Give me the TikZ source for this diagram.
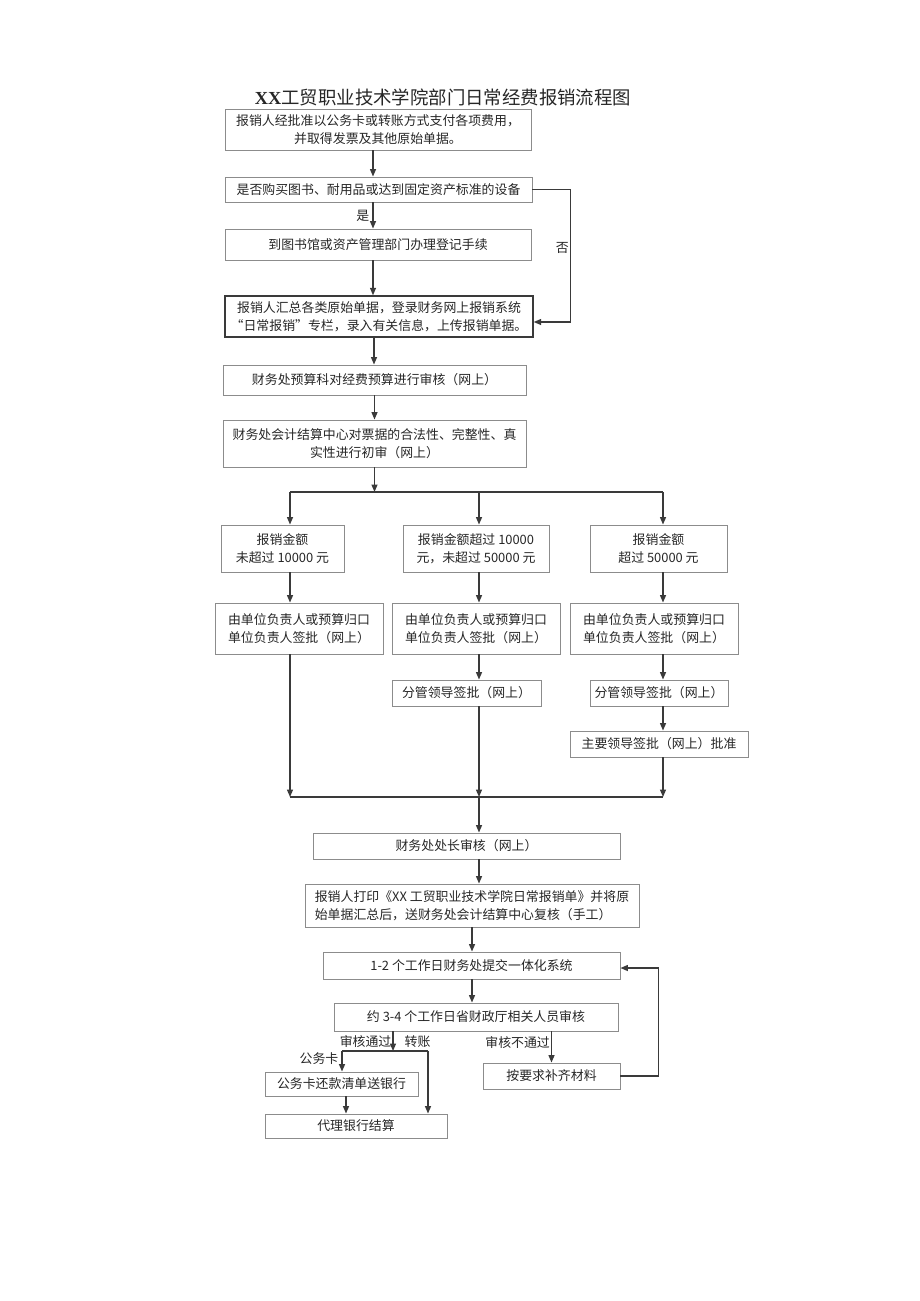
\documentclass[tikz,border=0pt]{standalone}
\usepackage{fontspec}
\setmainfont{Liberation Serif}
\newfontfamily\cjk{Noto Sans CJK SC}
\usetikzlibrary{arrows.meta,calc}
\definecolor{boxgray}{HTML}{8C8C8C}
\definecolor{linegray}{HTML}{3A3A3A}
\definecolor{textgray}{HTML}{262626}

\begin{document}
\begin{tikzpicture}[x=1pt,y=-1pt,every node/.append style={font=\cjk\fontsize{12.9}{18}\selectfont,
                    text=textgray},
    box/.style={draw=boxgray, line width=.9pt, inner sep=0pt, align=center},
    darkbox/.style={box, draw=linegray, line width=1.4pt},
    line/.style={draw=linegray, line width=1.3pt},
    arr/.style={line, -{Triangle[length=7.5pt,width=6pt]}},
    lbl/.style={inner sep=3pt}]
    \useasboundingbox (0,0) rectangle (920,1301);

    \node (title) at (443,97) {\fontsize{18.4}{22}\selectfont{\rmfamily\bfseries XX}工贸职业技术学院部门日常经费报销流程图};

    \node[box, minimum width=306pt, minimum height=41pt] (n1) at (378,129.5)
      {报销人经批准以公务卡或转账方式支付各项费用，\\并取得发票及其他原始单据。};
    \node[box, minimum width=307pt, minimum height=25pt] (n2) at (378.5,189.5)
      {是否购买图书、耐用品或达到固定资产标准的设备};
    \node[box, minimum width=306pt, minimum height=31pt] (n3) at (378,244.5)
      {到图书馆或资产管理部门办理登记手续};
    \node[darkbox, minimum width=308pt, minimum height=41pt] (n4) at (379,316.5)
      {报销人汇总各类原始单据，登录财务网上报销系统\\“日常报销”专栏，录入有关信息，上传报销单据。};
    \node[box, minimum width=303pt, minimum height=30pt] (n5) at (374.5,380)
      {财务处预算科对经费预算进行审核（网上）};
    \node[box, minimum width=303pt, minimum height=47pt] (n6) at (374.5,443.5)
      {财务处会计结算中心对票据的合法性、完整性、真\\实性进行初审（网上）};

    \node[box, minimum width=123pt, minimum height=47pt] (a1) at (282.5,548.5)
      {报销金额\\未超过 10000 元};
    \node[box, minimum width=146pt, minimum height=47pt] (a2) at (476,548.5)
      {报销金额超过 10000\\元，未超过 50000 元};
    \node[box, minimum width=137pt, minimum height=47pt] (a3) at (658.5,548.5)
      {报销金额\\超过 50000 元};

    \node[box, minimum width=168pt, minimum height=51pt] (b1) at (299,628.5)
      {由单位负责人或预算归口\\单位负责人签批（网上）};
    \node[box, minimum width=168pt, minimum height=51pt] (b2) at (476,628.5)
      {由单位负责人或预算归口\\单位负责人签批（网上）};
    \node[box, minimum width=168pt, minimum height=51pt] (b3) at (654,628.5)
      {由单位负责人或预算归口\\单位负责人签批（网上）};

    \node[box, minimum width=149pt, minimum height=26pt] (c2) at (466.5,693)
      {分管领导签批（网上）};
    \node[box, minimum width=138pt, minimum height=26pt] (c3) at (659,693)
      {分管领导签批（网上）};
    \node[box, minimum width=178pt, minimum height=26pt] (d3) at (659,744)
      {主要领导签批（网上）批准};

    \node[box, minimum width=307pt, minimum height=26pt] (e) at (466.5,846)
      {财务处处长审核（网上）};
    \node[box, minimum width=334pt, minimum height=43pt, align=left] (f) at (472,905.5)
      {报销人打印《XX 工贸职业技术学院日常报销单》并将原\\始单据汇总后，送财务处会计结算中心复核（手工）};
    \node[box, minimum width=297pt, minimum height=27pt] (g) at (471.5,965.5)
      {1-2 个工作日财务处提交一体化系统};
    \node[box, minimum width=284pt, minimum height=28pt] (h) at (476,1017)
      {约 3-4 个工作日省财政厅相关人员审核};
    \node[box, minimum width=153pt, minimum height=24pt] (i) at (341.5,1084)
      {公务卡还款清单送银行};
    \node[box, minimum width=182pt, minimum height=24pt] (j) at (356,1126)
      {代理银行结算};
    \node[box, minimum width=137pt, minimum height=26pt] (k) at (551.5,1076)
      {按要求补齐材料};

    \draw[arr] ([xshift=-5pt]n1.south) -- ([xshift=-5pt]n1.south |- n2.north);
    \draw[arr] ([xshift=-5.5pt]n2.south) -- ([xshift=-5.5pt]n2.south |- n3.north)
      node[lbl, midway, left] {是};
    \draw[arr] ([xshift=-5pt]n3.south) -- ([xshift=-5pt]n3.south |- n4.north);
    \draw[arr] (n2.east) -- ++(38,0) |- ([yshift=-5.5pt]n4.east)
      node[lbl, inner sep=1pt, pos=.22, left] {否};
    \draw[arr] ([xshift=-5pt]n4.south) -- ([xshift=-5pt]n4.south |- n5.north);
    \draw[arr] (n5.south) -- (n6.north);

    \coordinate (splitL) at (290,492);
    \coordinate (splitM) at (479,492);
    \coordinate (splitR) at (663,492);
    \draw[arr] (n6.south) -- (n6.south |- splitM);
    \draw[line] (splitL) -- (splitR);
    \draw[arr] (splitL) -- (splitL |- a1.north);
    \draw[arr] (splitM) -- (splitM |- a2.north);
    \draw[arr] (splitR) -- (splitR |- a3.north);

    \draw[arr] (a1.south -| splitL) -- (b1.north -| splitL);
    \draw[arr] (a2.south -| splitM) -- (b2.north -| splitM);
    \draw[arr] (a3.south -| splitR) -- (b3.north -| splitR);
    \draw[arr] (b2.south -| splitM) -- (c2.north -| splitM);
    \draw[arr] (b3.south -| splitR) -- (c3.north -| splitR);
    \draw[arr] (c3.south -| splitR) -- (d3.north -| splitR);

    \coordinate (joinL) at (290,797);
    \coordinate (joinM) at (479,797);
    \coordinate (joinR) at (663,797);
    \draw[arr] (b1.south -| joinL) -- (joinL);
    \draw[arr] (c2.south -| joinM) -- (joinM);
    \draw[arr] (d3.south -| joinR) -- (joinR);
    \draw[line] (joinL) -- (joinR);
    \draw[arr] (joinM) -- (joinM |- e.north);

    \draw[arr] (e.south -| joinM) -- (f.north -| joinM);
    \draw[arr] (f.south) -- (f.south |- g.north);
    \draw[arr] (g.south -| f.south) -- (h.north -| f.south);

    \coordinate (pass) at (393,1051);
    \coordinate (cardL) at (342,1051);
    \coordinate (cardR) at (428,1051);
    \draw[arr] (h.south -| pass) -- (pass)
      node[lbl, inner sep=1pt, midway, left] {审核通过}
      node[lbl, midway, right, xshift=8pt] {转账};
    \draw[line] (cardL) -- (cardR);
    \draw[arr] (cardL) -- (cardL |- i.north) node[lbl, pos=.35, left] {公务卡};
    \draw[arr] ([xshift=4.5pt]i.south) -- ([xshift=4.5pt]i.south |- j.north);
    \draw[arr] (cardR) -- (cardR |- j.north);
    \draw[arr] (h.south -| k.north) -- (k.north) node[lbl, inner sep=1pt, pos=.35, left] {审核不通过};
    \draw[arr] (k.east) -- ++(38,0) |- ([yshift=-2.5pt]g.east);
\end{tikzpicture}
\end{document}
